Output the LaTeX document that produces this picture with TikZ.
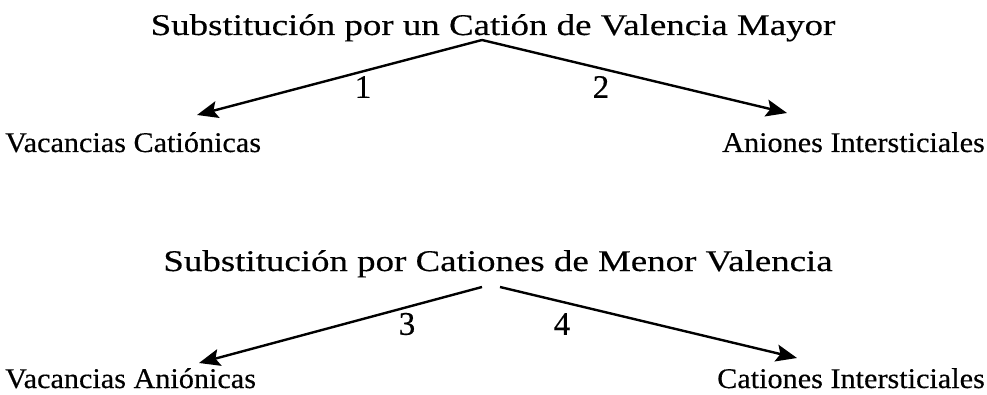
\documentclass[tikz,border=0pt]{standalone}
\usepackage{fontspec}
\setmainfont{Liberation Serif}[FakeStretch=1.23,FakeBold=0.4]
\newfontfamily\rowfont{Liberation Serif}[FakeStretch=1.06,FakeBold=0.4]
\newfontfamily\numfont{Liberation Serif}[FakeBold=0.4]
\usetikzlibrary{arrows.meta}
\begin{document}
\begin{tikzpicture}[x=1pt,y=-1pt,
  txt/.style={inner sep=0pt, font=\fontsize{30}{34}\selectfont},
  rowtxt/.style={inner sep=0pt, font=\rowfont\fontsize{28.5}{32}\selectfont},
  num/.style={inner sep=0pt, font=\numfont\fontsize{33}{37}\selectfont},
  arr/.style={line width=2.4pt, -{Stealth[length=21pt,width=17pt,inset=4pt]}}]
\useasboundingbox (0,0) rectangle (987,395);
% top group
\node[txt, anchor=base] (t1) at (493,35) {Substitución por un Catión de Valencia Mayor};
\coordinate (a1) at (482,40);
\coordinate (l1) at (197,115);
\coordinate (r1) at (787,113);
\draw[arr] (a1) -- (l1);
\draw[arr] (a1) -- (r1);
\node[num] (n1) at (363,87) {1};
\node[num] (n2) at (601,87) {2};
\node[rowtxt, anchor=base west] (vc) at (5,152) {Vacancias Catiónicas};
\node[rowtxt, anchor=base east] (ai) at (985,152) {Aniones Intersticiales};
% bottom group
\node[txt, anchor=base] (t2) at (498,271) {Substitución por Cationes de Menor Valencia};
\coordinate (a2) at (482,287);
\coordinate (a3) at (500,287);
\coordinate (l2) at (199,363);
\coordinate (r2) at (797,358);
\draw[arr] (a2) -- (l2);
\draw[arr] (a3) -- (r2);
\node[num] (n3) at (407,324) {3};
\node[num] (n4) at (562,324) {4};
\node[rowtxt, anchor=base west] (va) at (5,388) {Vacancias Aniónicas};
\node[rowtxt, anchor=base east] (ci) at (985,388) {Cationes Intersticiales};
\end{tikzpicture}
\end{document}
